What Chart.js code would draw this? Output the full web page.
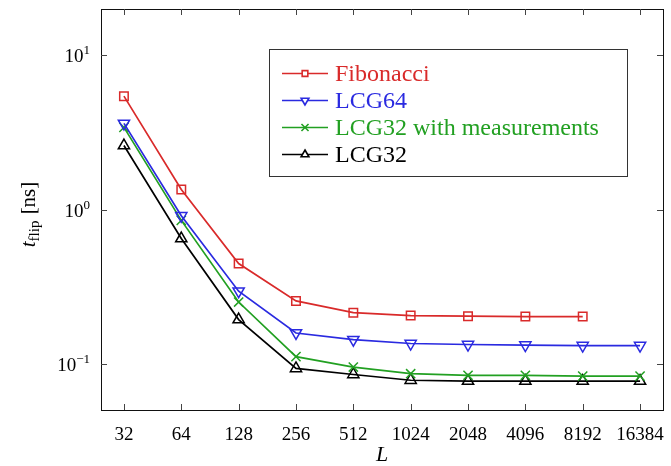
<!DOCTYPE html>
<html>
<head>
<meta charset="utf-8">
<script src="https://cdn.jsdelivr.net/npm/chart.js@4"></script>
<style>
  html, body { margin: 0; padding: 0; background: #fff; }
  #wrap { width: 671px; height: 466px; }
</style>
</head>
<body>
<div id="wrap"><canvas id="myChart" width="671" height="466"></canvas></div>
<script>
// system sizes L
const sizes = ['32', '64', '128', '256', '512', '1024', '2048', '4096', '8192', '16384'];

// t_flip in ns
const fibonacci = [5.44, 1.35, 0.446, 0.255, 0.214, 0.205, 0.203, 0.202, 0.202];
const lcg64 = [3.62, 0.91, 0.295, 0.158, 0.143, 0.135, 0.133, 0.132, 0.131, 0.131];
const lcg32meas = [3.41, 0.85, 0.251, 0.111, 0.095, 0.086, 0.084, 0.084, 0.083, 0.083];
const lcg32 = [2.6, 0.648, 0.193, 0.093, 0.085, 0.078, 0.077, 0.077, 0.077, 0.077];

const yTicks = [0.1, 1, 10];
const yTickExp = ['\u22121', '0', '1'];

const RED = '#d92a2a', BLUE = '#2a2ae0', GREEN = '#22a022', BLACK = '#000000';
const SERIF = '"Liberation Serif", "DejaVu Serif", serif';

function pts(vals) {
  return vals.map((v, i) => ({ x: i, y: v }));
}

const series = [
  { label: 'Fibonacci', data: pts(fibonacci), color: RED, style: 'rect', radius: 6, rot: 0, lr: 4 },
  { label: 'LCG64', data: pts(lcg64), color: BLUE, style: 'triangle', radius: 6.5, rot: 180, lr: 4.5 },
  { label: 'LCG32 with measurements', data: pts(lcg32meas), color: GREEN, style: 'crossRot', radius: 6.5, rot: 0, lr: 5 },
  { label: 'LCG32', data: pts(lcg32), color: BLACK, style: 'triangle', radius: 6.5, rot: 0, lr: 4.5 }
];

const frame = {
  id: 'frame',
  afterDraw(chart) {
    const { ctx, chartArea: a, scales: { x, y } } = chart;
    ctx.save();
    // box
    ctx.strokeStyle = '#111';
    ctx.lineWidth = 1;
    ctx.strokeRect(Math.round(a.left) + 0.5, Math.round(a.top) + 0.5,
      Math.round(a.right - a.left), Math.round(a.bottom - a.top));
    // inward ticks
    ctx.strokeStyle = '#444';
    ctx.beginPath();
    x.ticks.forEach(t => {
      const px = Math.round(x.getPixelForValue(t.value)) + 0.5;
      ctx.moveTo(px, a.bottom); ctx.lineTo(px, a.bottom - 6);
      ctx.moveTo(px, a.top); ctx.lineTo(px, a.top + 6);
    });
    y.ticks.forEach(t => {
      const py = Math.round(y.getPixelForValue(t.value)) + 0.5;
      ctx.moveTo(a.left, py); ctx.lineTo(a.left + 6, py);
      ctx.moveTo(a.right, py); ctx.lineTo(a.right - 6, py);
    });
    ctx.stroke();

    // y tick labels 10^k
    ctx.fillStyle = '#000';
    ctx.textBaseline = 'alphabetic';
    yTicks.forEach((v, i) => {
      const py = y.getPixelForValue(v);
      const right = a.left - 11;
      ctx.font = '13px ' + SERIF;
      const ew = ctx.measureText(yTickExp[i]).width;
      ctx.textAlign = 'left';
      ctx.fillText(yTickExp[i], right - ew, py - 1);
      ctx.font = '19px ' + SERIF;
      ctx.textAlign = 'right';
      ctx.fillText('10', right - ew, py + 7);
    });

    // y title  t_flip [ns]
    ctx.save();
    ctx.translate(29, (a.top + a.bottom) / 2 + 5);
    ctx.rotate(-Math.PI / 2);
    ctx.textAlign = 'left';
    ctx.textBaseline = 'alphabetic';
    ctx.font = 'italic 21px ' + SERIF;
    const wt = ctx.measureText('t').width;
    ctx.font = '15px ' + SERIF;
    const ws = ctx.measureText('flip').width;
    ctx.font = '21px ' + SERIF;
    const wr = ctx.measureText(' [ns]').width;
    let cx = -(wt + ws + 1 + wr) / 2;
    ctx.font = 'italic 21px ' + SERIF;
    ctx.fillText('t', cx, 6);
    cx += wt;
    ctx.font = '15px ' + SERIF;
    ctx.fillText('flip', cx, 10);
    cx += ws + 1;
    ctx.font = '21px ' + SERIF;
    ctx.fillText(' [ns]', cx, 6);
    ctx.restore();

    // x title
    ctx.font = 'italic 22px ' + SERIF;
    ctx.textAlign = 'center';
    ctx.textBaseline = 'middle';
    ctx.fillText('L', (a.left + a.right) / 2, 455);

    // legend
    const lx = 269.5, ly = 49.5, lw = 358, lh = 127;
    ctx.fillStyle = '#fff';
    ctx.fillRect(lx, ly, lw, lh);
    ctx.strokeStyle = '#333';
    ctx.lineWidth = 1;
    ctx.strokeRect(lx, ly, lw, lh);
    series.forEach((s, i) => {
      const ry = 73.5 + i * 27;
      ctx.strokeStyle = s.color;
      ctx.lineWidth = 1.6;
      ctx.beginPath();
      ctx.moveTo(282, ry); ctx.lineTo(328, ry);
      ctx.stroke();
      ctx.fillStyle = '#fff';
      Chart.helpers.drawPoint(ctx, { pointStyle: s.style, radius: s.lr, rotation: s.rot, borderWidth: 1.5 }, 305, ry);
      ctx.fillStyle = s.color;
      ctx.font = '24px ' + SERIF;
      ctx.textAlign = 'left';
      ctx.textBaseline = 'middle';
      ctx.fillText(s.label, 335, ry + 1);
    });
    ctx.restore();
  }
};

const ctx = document.getElementById('myChart').getContext('2d');
const myChart = new Chart(ctx, {
  type: 'line',
  data: {
    datasets: series.map(s => ({
      label: s.label,
      data: s.data,
      borderColor: s.color,
      backgroundColor: 'rgba(255,255,255,0)',
      borderWidth: 1.7,
      pointStyle: s.style,
      pointRadius: s.radius,
      pointRotation: s.rot,
      pointBorderWidth: 1.5,
      pointBorderColor: s.color,
      pointBackgroundColor: 'rgba(255,255,255,0)',
      tension: 0,
      fill: false
    }))
  },
  options: {
    responsive: false,
    animation: false,
    layout: { padding: { top: 9, right: 4, left: 0, bottom: 0 } },
    plugins: { legend: { display: false }, tooltip: { enabled: false } },
    scales: {
      x: {
        type: 'linear',
        min: -0.4,
        max: 9.4,
        grid: { display: false },
        border: { display: false },
        afterBuildTicks: scale => { scale.ticks = sizes.map((_, i) => ({ value: i })); },
        afterFit: scale => {
          scale.height = 56;
          scale.paddingLeft = 0;
          scale.paddingRight = 0;
        },
        ticks: {
          autoSkip: false,
          maxRotation: 0,
          padding: 6,
          color: '#000',
          font: { family: SERIF, size: 19 },
          callback: v => sizes[v]
        }
      },
      y: {
        type: 'logarithmic',
        min: 0.05,
        max: 20,
        grid: { display: false },
        border: { display: false },
        afterBuildTicks: scale => { scale.ticks = yTicks.map(v => ({ value: v })); },
        afterFit: scale => { scale.width = 101; },
        ticks: { display: false }
      }
    }
  },
  plugins: [frame]
});
</script>
</body>
</html>
